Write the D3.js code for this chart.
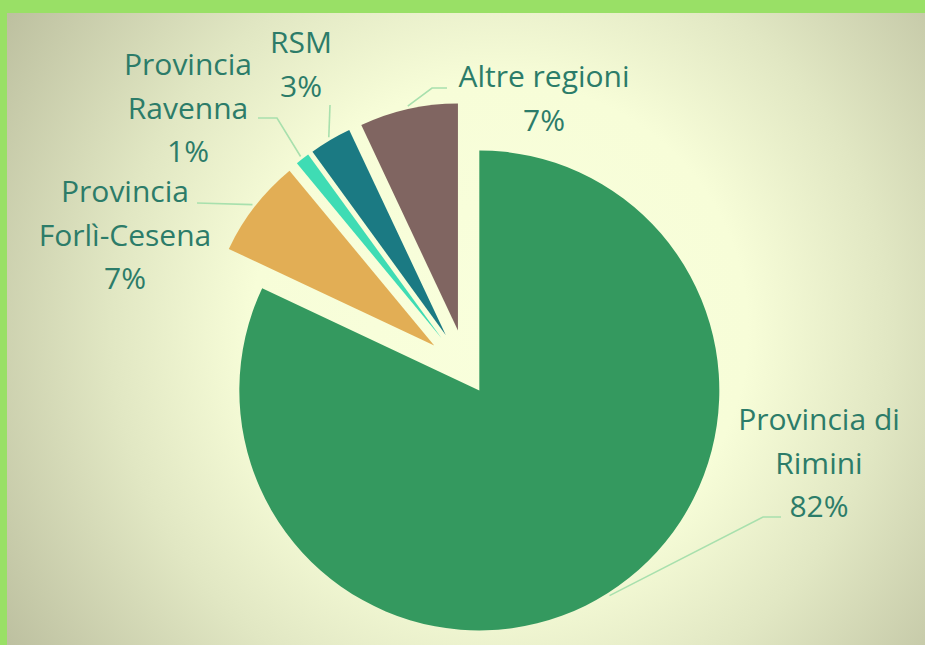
<html>

<head>
  <script src="https://d3js.org/d3.v7.min.js"></script>
  <style>
    body {
      margin: 0;
      overflow: hidden;
      background-color: #99e066;
    }

    svg {
      display: block;
    }
  </style>
</head>

<body>
  <svg id="chart" width="925" height="645"></svg>
  <script>
    // data
    const categories = ["Provincia di Rimini", "Provincia Forlì-Cesena", "Provincia Ravenna", "RSM", "Altre regioni"];
    const shares = [82, 7, 1, 3, 7];
    const labelLines = [["Provincia di", "Rimini"], ["Provincia", "Forlì-Cesena"], ["Provincia", "Ravenna"], ["RSM"], ["Altre regioni"]];
    const colors = ["#34995f", "#e2ae55", "#3fdcb4", "#1b7a83", "#806561"];

    // layout (not data)
    const explode = [23, 41.5, 41.5, 41.5, 41.5];
    const radius = [240, 227, 227, 227, 227];
    const labelPos = [
      { x: 819, y: 430, leader: [[763, 517], [781, 517]] },
      { x: 125, y: 202, leader: [[197, 203]] },
      { x: 188, y: 75, leader: [[277, 118], [258, 118]] },
      { x: 301, y: 53, leader: [[330, 105]] },
      { x: 544, y: 87, leader: [[432, 88], [447, 88]] }
    ];

    let svg = d3.select("svg#chart");
    const chartWidth = +svg.attr("width");
    const chartHeight = +svg.attr("height");

    // background with the soft radial glow
    let defs = svg.append("defs");
    let grad = defs.append("radialGradient")
      .attr("id", "bg")
      .attr("gradientUnits", "userSpaceOnUse")
      .attr("cx", 500).attr("cy", 330).attr("r", 590);
    grad.append("stop").attr("offset", 0).attr("stop-color", "#f9ffdc");
    grad.append("stop").attr("offset", 0.42).attr("stop-color", "#f7fdd8");
    grad.append("stop").attr("offset", 0.66).attr("stop-color", "#e1e7c3");
    grad.append("stop").attr("offset", 1).attr("stop-color", "#bcbf9f");

    svg.append("rect")
      .attr("x", 0).attr("y", 0)
      .attr("width", chartWidth).attr("height", chartHeight)
      .style("fill", "#99e066");
    svg.append("rect")
      .attr("x", 7).attr("y", 13)
      .attr("width", chartWidth - 7).attr("height", chartHeight - 13)
      .style("fill", "url(#bg)");

    const cx = 467, cy = 371;
    const pie = d3.pie().sort(null).value(d => d);
    const arcs = pie(shares);

    let g = svg.append("g").attr("transform", `translate(${cx},${cy})`);

    arcs.forEach((a, i) => {
      const mid = (a.startAngle + a.endAngle) / 2;
      const dx = Math.sin(mid) * explode[i];
      const dy = -Math.cos(mid) * explode[i];
      const arc = d3.arc().innerRadius(0).outerRadius(radius[i]);
      g.append("path")
        .attr("d", arc(a))
        .attr("transform", `translate(${dx},${dy})`)
        .style("fill", colors[i]);

      // leader line from the slice edge to the label
      const r0 = radius[i] + 3;
      const start = [cx + dx + Math.sin(mid) * r0, cy + dy - Math.cos(mid) * r0];
      const pts = [start].concat(labelPos[i].leader);
      svg.append("path")
        .attr("d", d3.line()(pts))
        .style("fill", "none")
        .style("stroke", "#a8e0ad")
        .style("stroke-width", 1.6);

      // label text
      const lines = labelLines[i].concat([shares[i] + "%"]);
      let t = svg.append("text")
        .attr("text-anchor", "middle")
        .style("font-family", "'Open Sans', sans-serif")
        .style("font-size", "30px")
        .style("fill", "#2c7c69");
      lines.forEach((l, j) => {
        t.append("tspan")
          .attr("x", labelPos[i].x)
          .attr("y", labelPos[i].y + j * 43.5)
          .text(l);
      });
    });
  </script>
</body>

</html>
